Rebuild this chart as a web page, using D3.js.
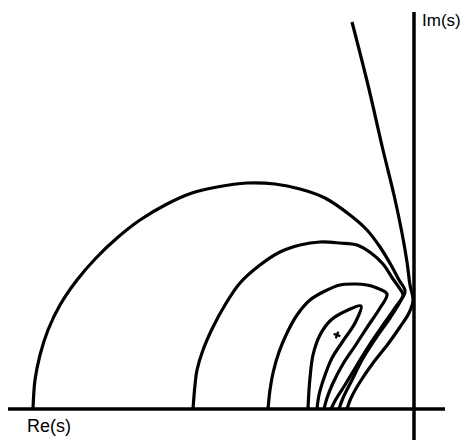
<!DOCTYPE html>
<html>
<head>
<meta charset="utf-8">
<script src="https://cdn.jsdelivr.net/npm/d3@7"></script>
<style>
  body { margin: 0; background: #fff; }
  text { font-family: "Liberation Sans", Arial, sans-serif; }
</style>
</head>
<body>
<div id="viz"></div>
<script>
const width = 470, height = 440;

// axis extents in s-plane units
const reDomain = [-4.06, 0.31];
const imDomain = [-0.31, 3.97];

// locus branches, [Re, Im]
const branchAsymptote = [
  [-0.62, 3.87], [-0.46, 3.24], [-0.31, 2.59], [-0.20, 2.14], [-0.12, 1.76],
  [-0.07, 1.47], [-0.04, 1.24], [-0.01, 1.09], [-0.05, 0.96], [-0.14, 0.82],
  [-0.26, 0.65], [-0.41, 0.46], [-0.54, 0.27], [-0.63, 0.11], [-0.67, 0]
];
const branchOuter = [
  [-3.81, 0], [-3.79, 0.29], [-3.74, 0.54], [-3.66, 0.79], [-3.54, 1.04],
  [-3.37, 1.29], [-3.18, 1.51], [-2.97, 1.71], [-2.74, 1.89], [-2.47, 2.05],
  [-2.22, 2.16], [-1.97, 2.22], [-1.67, 2.26], [-1.39, 2.25], [-1.14, 2.20],
  [-0.89, 2.11], [-0.64, 1.94], [-0.47, 1.79], [-0.34, 1.62], [-0.23, 1.44],
  [-0.15, 1.29], [-0.09, 1.18], [-0.14, 1.07], [-0.24, 0.91],
  [-0.38, 0.71], [-0.52, 0.49], [-0.62, 0.29], [-0.71, 0.11], [-0.75, 0]
];
const branchMiddle = [
  [-2.21, 0], [-2.19, 0.24], [-2.17, 0.39], [-2.11, 0.59], [-2.01, 0.82],
  [-1.89, 1.04], [-1.74, 1.26], [-1.54, 1.44], [-1.34, 1.57], [-1.14, 1.64],
  [-0.94, 1.67], [-0.74, 1.66], [-0.57, 1.64], [-0.43, 1.56], [-0.31, 1.45],
  [-0.21, 1.30], [-0.14, 1.20], [-0.11, 1.14], [-0.19, 1.01], [-0.31, 0.84],
  [-0.44, 0.65], [-0.57, 0.44], [-0.69, 0.24], [-0.78, 0.10], [-0.83, 0]
];
const branchInner = [
  [-1.46, 0], [-1.44, 0.19], [-1.41, 0.36], [-1.35, 0.57], [-1.27, 0.76],
  [-1.17, 0.94], [-1.04, 1.09], [-0.89, 1.18], [-0.74, 1.24], [-0.59, 1.25],
  [-0.47, 1.24], [-0.37, 1.21], [-0.27, 1.15], [-0.34, 1.01], [-0.46, 0.83],
  [-0.59, 0.63], [-0.71, 0.45], [-0.81, 0.26], [-0.87, 0.11], [-0.90, 0]
];
const branchTongue = [
  [-1.06, 0], [-1.05, 0.19], [-1.04, 0.31], [-1.01, 0.54], [-0.94, 0.74],
  [-0.83, 0.89], [-0.66, 0.99], [-0.53, 1.03], [-0.59, 0.86], [-0.71, 0.68],
  [-0.82, 0.51], [-0.90, 0.31], [-0.95, 0.14], [-0.97, 0]
];
const branches = [branchAsymptote, branchOuter, branchMiddle, branchInner, branchTongue];

// marked point inside the innermost loop
const marker = [-0.77, 0.74];

const axisLabels = ["Re(s)", "Im(s)"];

const svg = d3.select("#viz").append("svg").attr("width", width).attr("height", height);

const x = d3.scaleLinear().domain(reDomain).range([8, 445]);
const y = d3.scaleLinear().domain(imDomain).range([440, 12]);

// axes as plain lines through the origin
svg.append("line")
  .attr("x1", x(reDomain[0])).attr("x2", x(reDomain[1]))
  .attr("y1", y(0)).attr("y2", y(0))
  .attr("stroke", "#000").attr("stroke-width", 3.5);
svg.append("line")
  .attr("x1", x(0)).attr("x2", x(0))
  .attr("y1", y(imDomain[0])).attr("y2", y(imDomain[1]))
  .attr("stroke", "#000").attr("stroke-width", 3.5);

const line = d3.line()
  .x(d => x(d[0]))
  .y(d => y(d[1]))
  .curve(d3.curveCatmullRom.alpha(0.5));

svg.selectAll("path.branch").data(branches).enter().append("path")
  .attr("class", "branch")
  .attr("d", line)
  .attr("fill", "none")
  .attr("stroke", "#000")
  .attr("stroke-width", 3.2)
  .attr("stroke-linejoin", "round");

// small cross
svg.append("path")
  .attr("transform", `translate(${x(marker[0])},${y(marker[1])}) rotate(20)`)
  .attr("d", d3.symbol(d3.symbolCross, 28))
  .attr("fill", "#000");

svg.append("text")
  .attr("x", 27).attr("y", 432)
  .attr("font-size", 18)
  .text(axisLabels[0]);
svg.append("text")
  .attr("x", 422).attr("y", 26)
  .attr("font-size", 17)
  .text(axisLabels[1]);
</script>
</body>
</html>
